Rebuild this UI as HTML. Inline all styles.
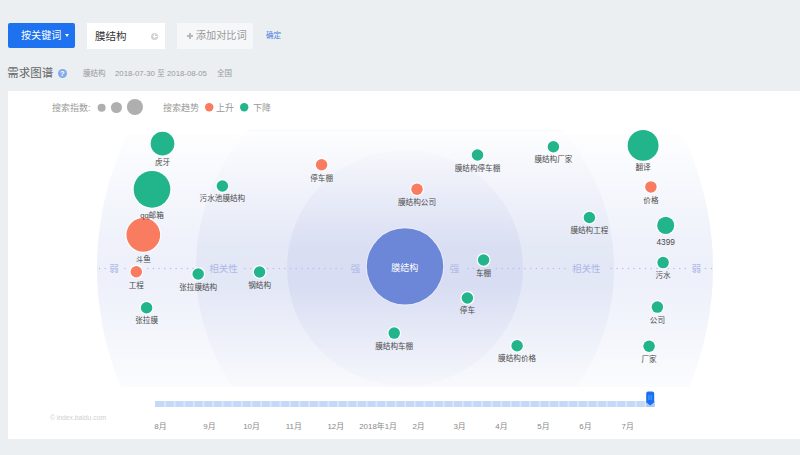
<!DOCTYPE html>
<html lang="zh-CN"><head><meta charset="utf-8">
<style>
*{margin:0;padding:0;box-sizing:border-box}
html,body{width:800px;height:455px;overflow:hidden;background:#ebeff2;font-family:"Liberation Sans","Noto Sans CJK SC",sans-serif}
.abs{position:absolute}
#btn{left:8px;top:23px;width:66.5px;height:25px;background:#1e72ef;border-radius:2px;color:#fff;font-size:10.1px;line-height:25px;padding-left:13px}
#btn .car{position:absolute;left:56.9px;top:10.5px;width:0;height:0;border-left:2.2px solid transparent;border-right:2.2px solid transparent;border-top:3px solid #fff}
#inp{left:87px;top:23px;width:78px;height:26px;background:#fff;font-size:10.5px;line-height:26px;padding-left:8px;color:#333}
#clr{left:151.1px;top:32.9px;width:7px;height:7px;border-radius:50%;background:#d2d2d2}
#clr:before{content:"";position:absolute;left:1.5px;top:3px;width:4px;height:1px;background:#fff}
#clr:after{content:"";position:absolute;left:3px;top:1.5px;width:1px;height:4px;background:#fff}
#add{left:177px;top:23px;width:76px;height:26px;background:#f5f7f9;font-size:10.5px;line-height:26px;padding-left:18.8px;color:#999;font-size:10.2px}
#ok{left:266px;top:31.2px;font-size:7.5px;color:#4a7ee0;line-height:10px}
#title{left:7.3px;top:65.3px;font-size:11.5px;line-height:16px;color:#666}
#q{left:57.8px;top:68.9px;width:8.9px;height:8.9px;border-radius:50%;background:#84abe9;color:#fff;font-size:7.6px;line-height:9px;text-align:center;font-weight:bold}
.mt{position:absolute;top:68px;font-size:7.5px;line-height:12px;color:#999;white-space:nowrap}
.dt{font-size:7.8px}
#panel{left:8px;top:90.5px;width:792px;height:348.3px;background:#fff}
svg{position:absolute;left:0;top:0}
.lb{font-size:7.6px;fill:#4a4a4a;text-anchor:middle}
.lg{font-size:9px;fill:#999}
.ax{font-size:9.5px;fill:#adb8e6;text-anchor:middle}
.mo{font-size:7.9px;fill:#888;text-anchor:middle}
</style></head><body>
<div id="btn" class="abs">按关键词<span class="car"></span></div>
<div id="inp" class="abs">膜结构</div>
<div id="clr" class="abs"></div>
<div id="add" class="abs">添加对比词</div><div class="abs" style="left:186.9px;top:35.3px;width:6px;height:1.5px;background:#b8b8b8"></div><div class="abs" style="left:189.15px;top:33.1px;width:1.5px;height:5.8px;background:#b8b8b8"></div>
<div id="ok" class="abs">确定</div>
<div id="title" class="abs">需求图谱</div>
<div id="q" class="abs">?</div>
<div class="mt" style="left:83px">膜结构</div><div class="mt dt" style="left:115px">2018-07-30</div><div class="mt" style="left:157.2px">至</div><div class="mt dt" style="left:167px">2018-08-05</div><div class="mt" style="left:217px">全国</div>
<div id="panel" class="abs"></div>
<svg width="800" height="455" viewBox="0 0 800 455">
<defs>
<clipPath id="cp"><rect x="8" y="134" width="792" height="253"/></clipPath>
<clipPath id="cp2"><rect x="8" y="130.5" width="792" height="256.5"/></clipPath>
<linearGradient id="fade" x1="0" y1="130.5" x2="0" y2="387" gradientUnits="userSpaceOnUse">
<stop offset="0" stop-color="#fff" stop-opacity="0.95"/>
<stop offset="0.45" stop-color="#fff" stop-opacity="0.15"/>
<stop offset="0.6" stop-color="#fff" stop-opacity="0.1"/>
<stop offset="1" stop-color="#fff" stop-opacity="0.8"/>
</linearGradient>
</defs>
<circle cx="405" cy="268" r="308" fill="#eceffa" clip-path="url(#cp)"/>
<circle cx="405" cy="268" r="209" fill="#e0e5f5" clip-path="url(#cp2)"/>
<circle cx="405" cy="268" r="118" fill="#d3d9f1" clip-path="url(#cp2)"/>
<rect x="8" y="130.5" width="792" height="256.5" fill="url(#fade)"/>
<g fill="#b5bfea"><circle cx="99.50" cy="268.5" r="0.78"/><circle cx="105.20" cy="268.5" r="0.78"/><circle cx="125.00" cy="268.5" r="0.78"/><circle cx="130.68" cy="268.5" r="0.78"/><circle cx="136.36" cy="268.5" r="0.78"/><circle cx="142.04" cy="268.5" r="0.78"/><circle cx="147.72" cy="268.5" r="0.78"/><circle cx="153.40" cy="268.5" r="0.78"/><circle cx="159.08" cy="268.5" r="0.78"/><circle cx="164.76" cy="268.5" r="0.78"/><circle cx="170.44" cy="268.5" r="0.78"/><circle cx="176.12" cy="268.5" r="0.78"/><circle cx="181.80" cy="268.5" r="0.78"/><circle cx="187.48" cy="268.5" r="0.78"/><circle cx="193.16" cy="268.5" r="0.78"/><circle cx="198.84" cy="268.5" r="0.78"/><circle cx="245.00" cy="268.5" r="0.78"/><circle cx="250.70" cy="268.5" r="0.78"/><circle cx="256.40" cy="268.5" r="0.78"/><circle cx="262.10" cy="268.5" r="0.78"/><circle cx="267.80" cy="268.5" r="0.78"/><circle cx="273.50" cy="268.5" r="0.78"/><circle cx="279.20" cy="268.5" r="0.78"/><circle cx="284.90" cy="268.5" r="0.78"/><circle cx="290.60" cy="268.5" r="0.78"/><circle cx="296.30" cy="268.5" r="0.78"/><circle cx="302.00" cy="268.5" r="0.78"/><circle cx="307.70" cy="268.5" r="0.78"/><circle cx="313.40" cy="268.5" r="0.78"/><circle cx="319.10" cy="268.5" r="0.78"/><circle cx="324.80" cy="268.5" r="0.78"/><circle cx="330.50" cy="268.5" r="0.78"/><circle cx="336.20" cy="268.5" r="0.78"/><circle cx="341.90" cy="268.5" r="0.78"/><circle cx="467.75" cy="268.5" r="0.78"/><circle cx="473.47" cy="268.5" r="0.78"/><circle cx="496.35" cy="268.5" r="0.78"/><circle cx="502.07" cy="268.5" r="0.78"/><circle cx="507.79" cy="268.5" r="0.78"/><circle cx="513.51" cy="268.5" r="0.78"/><circle cx="519.23" cy="268.5" r="0.78"/><circle cx="524.95" cy="268.5" r="0.78"/><circle cx="530.67" cy="268.5" r="0.78"/><circle cx="536.39" cy="268.5" r="0.78"/><circle cx="542.11" cy="268.5" r="0.78"/><circle cx="547.83" cy="268.5" r="0.78"/><circle cx="553.55" cy="268.5" r="0.78"/><circle cx="559.27" cy="268.5" r="0.78"/><circle cx="564.99" cy="268.5" r="0.78"/><circle cx="611.30" cy="268.5" r="0.78"/><circle cx="617.00" cy="268.5" r="0.78"/><circle cx="622.70" cy="268.5" r="0.78"/><circle cx="628.40" cy="268.5" r="0.78"/><circle cx="634.10" cy="268.5" r="0.78"/><circle cx="639.80" cy="268.5" r="0.78"/><circle cx="645.50" cy="268.5" r="0.78"/><circle cx="651.20" cy="268.5" r="0.78"/><circle cx="656.90" cy="268.5" r="0.78"/><circle cx="662.60" cy="268.5" r="0.78"/><circle cx="668.30" cy="268.5" r="0.78"/><circle cx="674.00" cy="268.5" r="0.78"/><circle cx="679.70" cy="268.5" r="0.78"/><circle cx="685.40" cy="268.5" r="0.78"/><circle cx="705.50" cy="268.5" r="0.78"/><circle cx="711.30" cy="268.5" r="0.78"/></g>
<text x="114" y="271.6" class="ax">弱</text>
<text x="223.5" y="271.6" class="ax">相关性</text>
<text x="355.4" y="271.6" class="ax">强</text>
<text x="454.5" y="271.6" class="ax">强</text>
<text x="586.2" y="271.6" class="ax">相关性</text>
<text x="696.3" y="271.6" class="ax">弱</text>
<circle cx="405" cy="266.4" r="39.1" fill="#fff" fill-opacity="0.45"/><circle cx="405" cy="266.4" r="38.2" fill="#6d87d8"/>
<text x="404.8" y="270.5" style="font-size:9px;fill:#fff;text-anchor:middle">膜结构</text>
<circle cx="162.5" cy="143.7" r="13.05" fill="#fff"/><circle cx="162.5" cy="143.7" r="11.85" fill="#22b58b"/><circle cx="152" cy="189.3" r="19.55" fill="#fff"/><circle cx="152" cy="189.3" r="18.35" fill="#22b58b"/><circle cx="143.3" cy="234.9" r="18.05" fill="#fff"/><circle cx="143.3" cy="234.9" r="16.85" fill="#fa7c60"/><circle cx="136.3" cy="271.7" r="6.95" fill="#fff"/><circle cx="136.3" cy="271.7" r="5.75" fill="#fa7c60"/><circle cx="146.6" cy="307.8" r="6.95" fill="#fff"/><circle cx="146.6" cy="307.8" r="5.75" fill="#22b58b"/><circle cx="198.2" cy="274" r="6.95" fill="#fff"/><circle cx="198.2" cy="274" r="5.75" fill="#22b58b"/><circle cx="222.4" cy="186" r="6.95" fill="#fff"/><circle cx="222.4" cy="186" r="5.75" fill="#22b58b"/><circle cx="259.6" cy="272" r="6.95" fill="#fff"/><circle cx="259.6" cy="272" r="5.75" fill="#22b58b"/><circle cx="321.6" cy="164.7" r="6.95" fill="#fff"/><circle cx="321.6" cy="164.7" r="5.75" fill="#fa7c60"/><circle cx="417" cy="189.3" r="6.95" fill="#fff"/><circle cx="417" cy="189.3" r="5.75" fill="#fa7c60"/><circle cx="394.2" cy="333.1" r="6.95" fill="#fff"/><circle cx="394.2" cy="333.1" r="5.75" fill="#22b58b"/><circle cx="477.5" cy="155" r="6.95" fill="#fff"/><circle cx="477.5" cy="155" r="5.75" fill="#22b58b"/><circle cx="553.4" cy="146.8" r="6.95" fill="#fff"/><circle cx="553.4" cy="146.8" r="5.75" fill="#22b58b"/><circle cx="589.4" cy="217.5" r="6.95" fill="#fff"/><circle cx="589.4" cy="217.5" r="5.75" fill="#22b58b"/><circle cx="483.6" cy="260" r="6.95" fill="#fff"/><circle cx="483.6" cy="260" r="5.75" fill="#22b58b"/><circle cx="467.4" cy="298" r="6.95" fill="#fff"/><circle cx="467.4" cy="298" r="5.75" fill="#22b58b"/><circle cx="517.1" cy="345.7" r="6.95" fill="#fff"/><circle cx="517.1" cy="345.7" r="5.75" fill="#22b58b"/><circle cx="643.1" cy="145.4" r="16.65" fill="#fff"/><circle cx="643.1" cy="145.4" r="15.45" fill="#22b58b"/><circle cx="650.9" cy="186.9" r="6.95" fill="#fff"/><circle cx="650.9" cy="186.9" r="5.75" fill="#fa7c60"/><circle cx="665.7" cy="225.4" r="9.75" fill="#fff"/><circle cx="665.7" cy="225.4" r="8.55" fill="#22b58b"/><circle cx="663.1" cy="262.6" r="6.95" fill="#fff"/><circle cx="663.1" cy="262.6" r="5.75" fill="#22b58b"/><circle cx="657.4" cy="307.1" r="6.95" fill="#fff"/><circle cx="657.4" cy="307.1" r="5.75" fill="#22b58b"/><circle cx="649.1" cy="346.3" r="6.95" fill="#fff"/><circle cx="649.1" cy="346.3" r="5.75" fill="#22b58b"/><text x="162.5" y="165.3" class="lb">虎牙</text><text x="152" y="218.3" class="lb">qq邮箱</text><text x="143.3" y="262.1" class="lb">斗鱼</text><text x="136.3" y="287.7" class="lb">工程</text><text x="146.6" y="322.8" class="lb">张拉膜</text><text x="198.2" y="289.9" class="lb">张拉膜结构</text><text x="222.4" y="201.3" class="lb">污水池膜结构</text><text x="259.6" y="287.6" class="lb">钢结构</text><text x="321.6" y="180.9" class="lb">停车棚</text><text x="417" y="205.3" class="lb">膜结构公司</text><text x="394.2" y="348.9" class="lb">膜结构车棚</text><text x="477.5" y="170.7" class="lb">膜结构停车棚</text><text x="553.4" y="162.3" class="lb">膜结构厂家</text><text x="589.4" y="232.8" class="lb">膜结构工程</text><text x="483.6" y="276.2" class="lb">车棚</text><text x="467.4" y="313.3" class="lb">停车</text><text x="517.1" y="361.0" class="lb">膜结构价格</text><text x="643.1" y="170.4" class="lb">翻译</text><text x="650.9" y="202.7" class="lb">价格</text><text x="665.7" y="244.7" class="lb" style="font-size:8.3px">4399</text><text x="663.1" y="278.2" class="lb">污水</text><text x="657.4" y="322.7" class="lb">公司</text><text x="649.1" y="361.9" class="lb">厂家</text>
<text x="52" y="111" class="lg">搜索指数:</text>
<circle cx="101.6" cy="107.8" r="4" fill="#afafaf"/>
<circle cx="116.45" cy="107.5" r="5.55" fill="#afafaf"/>
<circle cx="134.95" cy="107" r="8.05" fill="#afafaf"/>
<text x="163" y="111" class="lg">搜索趋势</text>
<circle cx="209.2" cy="107.3" r="4.2" fill="#fa7c60"/>
<text x="216" y="111" class="lg">上升</text>
<circle cx="244.2" cy="107.3" r="4.2" fill="#22b58b"/>
<text x="253" y="111" class="lg">下降</text>
<text x="50" y="419.8" style="font-size:6.75px;fill:#d0d0d0">© index.baidu.com</text>
<g><rect x="155" y="401" width="499.60" height="6" fill="#c4d9f7"/><rect x="164.11" y="401" width="1.8" height="6" fill="#d9e6fb"/><rect x="173.72" y="401" width="1.8" height="6" fill="#d9e6fb"/><rect x="183.32" y="401" width="1.8" height="6" fill="#d9e6fb"/><rect x="192.93" y="401" width="1.8" height="6" fill="#d9e6fb"/><rect x="202.54" y="401" width="1.8" height="6" fill="#d9e6fb"/><rect x="212.15" y="401" width="1.8" height="6" fill="#d9e6fb"/><rect x="221.75" y="401" width="1.8" height="6" fill="#d9e6fb"/><rect x="231.36" y="401" width="1.8" height="6" fill="#d9e6fb"/><rect x="240.97" y="401" width="1.8" height="6" fill="#d9e6fb"/><rect x="250.58" y="401" width="1.8" height="6" fill="#d9e6fb"/><rect x="260.18" y="401" width="1.8" height="6" fill="#d9e6fb"/><rect x="269.79" y="401" width="1.8" height="6" fill="#d9e6fb"/><rect x="279.40" y="401" width="1.8" height="6" fill="#d9e6fb"/><rect x="289.01" y="401" width="1.8" height="6" fill="#d9e6fb"/><rect x="298.62" y="401" width="1.8" height="6" fill="#d9e6fb"/><rect x="308.22" y="401" width="1.8" height="6" fill="#d9e6fb"/><rect x="317.83" y="401" width="1.8" height="6" fill="#d9e6fb"/><rect x="327.44" y="401" width="1.8" height="6" fill="#d9e6fb"/><rect x="337.05" y="401" width="1.8" height="6" fill="#d9e6fb"/><rect x="346.65" y="401" width="1.8" height="6" fill="#d9e6fb"/><rect x="356.26" y="401" width="1.8" height="6" fill="#d9e6fb"/><rect x="365.87" y="401" width="1.8" height="6" fill="#d9e6fb"/><rect x="375.48" y="401" width="1.8" height="6" fill="#d9e6fb"/><rect x="385.08" y="401" width="1.8" height="6" fill="#d9e6fb"/><rect x="394.69" y="401" width="1.8" height="6" fill="#d9e6fb"/><rect x="404.30" y="401" width="1.8" height="6" fill="#d9e6fb"/><rect x="413.91" y="401" width="1.8" height="6" fill="#d9e6fb"/><rect x="423.52" y="401" width="1.8" height="6" fill="#d9e6fb"/><rect x="433.12" y="401" width="1.8" height="6" fill="#d9e6fb"/><rect x="442.73" y="401" width="1.8" height="6" fill="#d9e6fb"/><rect x="452.34" y="401" width="1.8" height="6" fill="#d9e6fb"/><rect x="461.95" y="401" width="1.8" height="6" fill="#d9e6fb"/><rect x="471.55" y="401" width="1.8" height="6" fill="#d9e6fb"/><rect x="481.16" y="401" width="1.8" height="6" fill="#d9e6fb"/><rect x="490.77" y="401" width="1.8" height="6" fill="#d9e6fb"/><rect x="500.38" y="401" width="1.8" height="6" fill="#d9e6fb"/><rect x="509.98" y="401" width="1.8" height="6" fill="#d9e6fb"/><rect x="519.59" y="401" width="1.8" height="6" fill="#d9e6fb"/><rect x="529.20" y="401" width="1.8" height="6" fill="#d9e6fb"/><rect x="538.81" y="401" width="1.8" height="6" fill="#d9e6fb"/><rect x="548.42" y="401" width="1.8" height="6" fill="#d9e6fb"/><rect x="558.02" y="401" width="1.8" height="6" fill="#d9e6fb"/><rect x="567.63" y="401" width="1.8" height="6" fill="#d9e6fb"/><rect x="577.24" y="401" width="1.8" height="6" fill="#d9e6fb"/><rect x="586.85" y="401" width="1.8" height="6" fill="#d9e6fb"/><rect x="596.45" y="401" width="1.8" height="6" fill="#d9e6fb"/><rect x="606.06" y="401" width="1.8" height="6" fill="#d9e6fb"/><rect x="615.67" y="401" width="1.8" height="6" fill="#d9e6fb"/><rect x="625.28" y="401" width="1.8" height="6" fill="#d9e6fb"/><rect x="634.88" y="401" width="1.8" height="6" fill="#d9e6fb"/><rect x="644.49" y="401" width="1.8" height="6" fill="#d9e6fb"/><rect x="646.29" y="401" width="8.31" height="6" fill="#a9c8f6"/></g>
<g class="mo"><text x="160.5" y="429.3">8月</text><text x="209.5" y="429.3">9月</text><text x="251.5" y="429.3">10月</text><text x="293.75" y="429.3">11月</text><text x="335.75" y="429.3">12月</text><text x="378.1" y="429.3">2018年1月</text><text x="418.6" y="429.3">2月</text><text x="459.6" y="429.3">3月</text><text x="501.5" y="429.3">4月</text><text x="543.5" y="429.3">5月</text><text x="585.5" y="429.3">6月</text><text x="627.75" y="429.3">7月</text></g>
<path d="M646.2 393.4 a2 2 0 0 1 2 -2 h4 a2 2 0 0 1 2 2 v8.9 l-4 3.2 l-4 -3.2z" fill="#1c6ff0"/>
<rect x="648.3" y="395" width="1.3" height="5" fill="#3d9af4"/>
<rect x="650.5" y="395" width="1.3" height="5" fill="#3d9af4"/>
</svg>
</body></html>
